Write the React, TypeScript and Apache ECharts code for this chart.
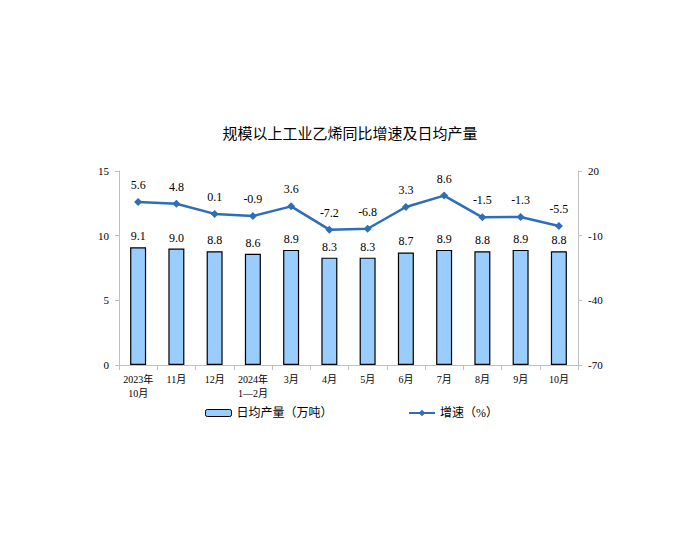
import React, { useEffect, useRef } from "react";
import * as echarts from "echarts";

const categories = ["2023年\n10月", "11月", "12月", "2024年\n1—2月", "3月", "4月", "5月", "6月", "7月", "8月", "9月", "10月"];
const output = [9.1, 9.0, 8.8, 8.6, 8.9, 8.3, 8.3, 8.7, 8.9, 8.8, 8.9, 8.8];
const growth = [5.6, 4.8, 0.1, -0.9, 3.6, -7.2, -6.8, 3.3, 8.6, -1.5, -1.3, -5.5];
const barName = "日均产量（万吨）";
const lineName = "增速（%）";

const FONT = "Liberation Serif, Noto Sans CJK SC, serif";

export default function App() {
  const ref = useRef<HTMLDivElement>(null);
  useEffect(() => {
    if (!ref.current) return;
    const chart = echarts.init(ref.current, null, { renderer: "svg" });
    const axisLine = { show: true, lineStyle: { color: "#BFBFBF", width: 1 } };
    chart.setOption({
      animation: false,
      backgroundColor: "#fff",
      textStyle: { fontFamily: FONT },
      title: {
        text: "规模以上工业乙烯同比增速及日均产量",
        left: "center",
        top: 120,
        textStyle: { fontSize: 15, fontWeight: "normal", color: "#000", fontFamily: "Noto Sans CJK SC, sans-serif" },
      },
      legend: [
        {
          data: [barName],
          left: 200,
          top: 402,
          itemWidth: 26,
          itemHeight: 7,
          itemStyle: { borderWidth: 1 },
          textStyle: { fontSize: 12, color: "#000", fontFamily: FONT },
        },
        {
          data: [lineName],
          left: 403,
          top: 402,
          itemWidth: 26,
          itemHeight: 8,
          textStyle: { fontSize: 12, color: "#000", fontFamily: FONT },
        },
      ],
      grid: { left: 119, right: 122, top: 171, bottom: 185 },
      xAxis: {
        type: "category",
        data: categories,
        axisLine,
        axisTick: { show: true, length: 5, interval: 0, lineStyle: { color: "#BFBFBF" } },
        axisLabel: { interval: 0, fontSize: 10, color: "#000", lineHeight: 14, margin: 7, fontFamily: FONT },
      },
      yAxis: [
        {
          type: "value",
          min: 0,
          max: 15,
          interval: 5,
          axisLine,
          axisTick: { show: true, length: 4, lineStyle: { color: "#BFBFBF" } },
          splitLine: { show: false },
          axisLabel: { fontSize: 11, color: "#000", margin: 10, fontFamily: FONT },
        },
        {
          type: "value",
          min: -70,
          max: 20,
          interval: 30,
          axisLine,
          axisTick: { show: true, length: 4, lineStyle: { color: "#BFBFBF" } },
          splitLine: { show: false },
          axisLabel: { fontSize: 11, color: "#000", margin: 10, fontFamily: FONT },
        },
      ],
      series: [
        {
          name: barName,
          type: "bar",
          data: output,
          yAxisIndex: 0,
          barWidth: 16,
          itemStyle: { color: "#99CCFF", borderColor: "#000", borderWidth: 1.2 },
          label: {
            show: true,
            position: "top",
            distance: 5,
            formatter: (p: any) => p.value.toFixed(1),
            fontSize: 12,
            color: "#000",
            fontFamily: FONT,
          },
        },
        {
          name: lineName,
          type: "line",
          data: growth,
          yAxisIndex: 1,
          symbol: "diamond",
          symbolSize: 8,
          lineStyle: { color: "#2E6DB8", width: 2.5 },
          itemStyle: { color: "#2E6DB8" },
          label: {
            show: true,
            position: "top",
            distance: 7,
            formatter: (p: any) => p.value.toFixed(1),
            fontSize: 12,
            color: "#000",
            fontFamily: FONT,
          },
        },
      ],
    });
    return () => chart.dispose();
  }, []);
  return <div ref={ref} style={{ position: "fixed", left: 0, top: 0, width: 700, height: 550 }} />;
}
